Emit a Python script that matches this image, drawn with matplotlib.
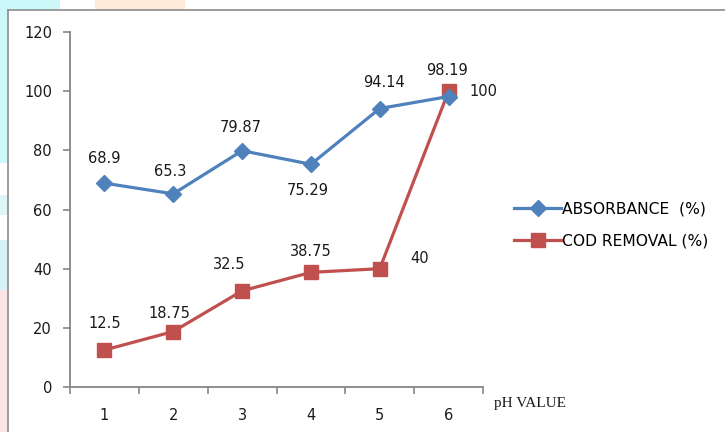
import matplotlib
matplotlib.use('Agg')
import matplotlib.pyplot as plt
from matplotlib.patches import Rectangle
from matplotlib.lines import Line2D

# data
ph = [1, 2, 3, 4, 5, 6]
absorbance = [68.9, 65.3, 79.87, 75.29, 94.14, 98.19]
cod_removal = [12.5, 18.75, 32.5, 38.75, 40, 100]
abs_lbl = ['68.9', '65.3', '79.87', '75.29', '94.14', '98.19']
cod_lbl = ['12.5', '18.75', '32.5', '38.75', '40', '100']
yticks = [0, 20, 40, 60, 80, 100, 120]

C_BLUE = '#4F81BD'
C_RED = '#C0504D'
C_AX = '#868686'
W, H = 725, 432

fig = plt.figure(figsize=(7.25, 4.32), dpi=100)
fig.patch.set_facecolor('white')

# faint background patches outside the chart frame
def fpatch(x0, y0, x1, y1, col):
    fig.patches.append(Rectangle((x0 / W, 1 - y1 / H), (x1 - x0) / W, (y1 - y0) / H,
                                 transform=fig.transFigure, color=col, zorder=0, lw=0))
fpatch(0, 0, 60, 10, '#CCF8FA')
fpatch(0, 0, 8, 163, '#CCF8FA')
fpatch(0, 195, 8, 215, '#DDF6F8')
fpatch(0, 240, 8, 290, '#D6F2F8')
fpatch(0, 290, 8, 432, '#FDE4E4')
fpatch(95, 0, 185, 10, '#FDEAD8')
# chart frame
fig.add_artist(Line2D([8 / W, 8 / W], [0, 1 - 10 / H], color='#8C8C8C', lw=1.2,
                      transform=fig.transFigure))
fig.add_artist(Line2D([8 / W, 1], [1 - 10 / H, 1 - 10 / H], color='#8C8C8C', lw=1.2,
                      transform=fig.transFigure))

ax = fig.add_axes([70 / W, 1 - 387 / H, (483 - 70) / W, (387 - 32) / H])
ax.set_facecolor('none')

l1, = ax.plot(ph, absorbance, '-D', color=C_BLUE, lw=2.3, ms=8, label='ABSORBANCE  (%)',
              zorder=3)
l2, = ax.plot(ph, cod_removal, '-s', color=C_RED, lw=2.3, ms=10, label='COD REMOVAL (%)',
              zorder=2)

# data labels (offsets in points)
abs_off = [(0, 18), (-2, 16), (-1, 17), (-2, -19), (3, 19), (-1, 19)]
cod_off = [(0, 19), (-3, 13), (-9, 19), (0, 15), (29, 7), (25, 0)]
for x, v, t, o in zip(ph, absorbance, abs_lbl, abs_off):
    ax.annotate(t, (x, v), xytext=o, textcoords='offset points', ha='center', va='center',
                fontsize=10.5, color='#1A1A1A')
for x, v, t, o in zip(ph, cod_removal, cod_lbl, cod_off):
    ax.annotate(t, (x, v), xytext=o, textcoords='offset points', ha='center', va='center',
                fontsize=10.5, color='#1A1A1A')

ax.set_xlim(0.5, 6.5)
ax.set_ylim(0, 120)
ax.set_yticks(yticks)
ax.set_xticks(ph)
ax.set_xticks([0.5 + i for i in range(7)], minor=True)
ax.tick_params(axis='x', which='major', length=0, pad=15, labelsize=10.5, labelcolor='#1A1A1A')
ax.tick_params(axis='x', which='minor', length=5, color=C_AX, width=1.2, direction='out')
ax.tick_params(axis='y', length=5, color=C_AX, width=1.2, pad=8, labelsize=10.5,
               labelcolor='#1A1A1A')
for s in ['top', 'right']:
    ax.spines[s].set_visible(False)
for s in ['left', 'bottom']:
    ax.spines[s].set_color(C_AX)
    ax.spines[s].set_linewidth(1.3)

fig.text(494 / W, 1 - 404 / H, 'pH VALUE', family='Liberation Serif', fontsize=11,
         ha='left', va='center', color='#1A1A1A')

fig.legend(handles=[l1, l2], loc='center left', bbox_to_anchor=(508 / W, 1 - 225 / H),
           frameon=False, fontsize=11.2, handlelength=3.0, handletextpad=0.1,
           labelspacing=1.1, borderaxespad=0)

plt.savefig('out.png', dpi=100, facecolor='white')
